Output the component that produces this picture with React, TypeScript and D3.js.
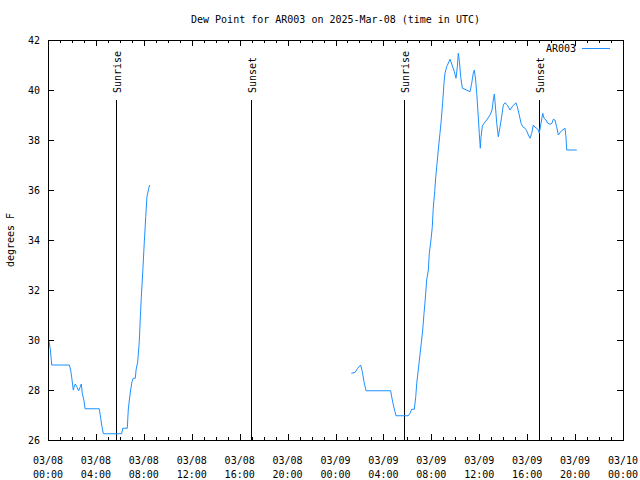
import React from "react";
import * as d3 from "d3";

// hours since 2025-03-08 00:00 UTC, and dew point (F)
const hours1 = [0.08, 0.2, 0.31, 1.78, 1.89, 1.98, 2.11, 2.2, 2.28, 2.4, 2.56, 2.67, 2.78, 2.86, 3.01, 3.09, 4.28, 4.4, 4.48, 4.62, 6.15, 6.24, 6.62, 6.7, 6.79, 6.9, 7.01, 7.12, 7.29, 7.35, 7.49, 7.62, 7.71, 7.79, 7.91, 8.04, 8.16, 8.26, 8.41, 8.49];
const dew1 = [29.96, 29.6, 29.0, 29.0, 28.8, 28.5, 28.0, 28.16, 28.24, 28.13, 27.97, 28.1, 28.24, 27.87, 27.56, 27.25, 27.25, 26.87, 26.6, 26.25, 26.25, 26.47, 26.47, 27.2, 27.6, 28.0, 28.33, 28.47, 28.47, 28.8, 29.13, 29.93, 30.93, 31.73, 32.73, 33.93, 34.93, 35.73, 36.07, 36.2];

const hours2 = [25.32, 25.63, 25.85, 26.1, 26.24, 26.38, 26.55, 28.61, 28.69, 28.83, 28.97, 29.05, 30.08, 30.22, 30.36, 30.58, 30.7, 30.78, 30.91, 31.05, 31.16, 31.28, 31.39, 31.5, 31.61, 31.75, 31.83, 31.97, 32.08, 32.16, 32.28, 32.37, 32.45, 32.58, 32.72, 32.83, 32.95, 33.06, 33.14, 33.28, 33.56, 33.73, 33.92, 34.06, 34.17, 34.25, 34.34, 34.45, 34.59, 34.81, 35.23, 35.37, 35.5, 35.59, 35.7, 35.79, 35.92, 36.0, 36.09, 36.15, 36.26, 36.4, 36.62, 36.9, 37.07, 37.17, 37.26, 37.34, 37.46, 37.59, 37.73, 37.87, 38.01, 38.15, 38.34, 38.57, 38.79, 39.07, 39.21, 39.34, 39.49, 39.63, 39.82, 39.96, 40.1, 40.24, 40.38, 40.51, 40.65, 40.8, 40.93, 41.01, 41.3, 41.41, 41.57, 41.71, 41.91, 42.07, 42.18, 42.32, 42.46, 42.6, 42.74, 42.87, 43.16, 43.24, 43.3, 44.14];
const dew2 = [28.67, 28.7, 28.87, 29.0, 28.73, 28.33, 27.97, 27.97, 27.73, 27.4, 27.13, 26.97, 26.97, 27.07, 27.23, 27.23, 27.73, 28.27, 28.8, 29.4, 29.87, 30.4, 31.07, 31.67, 32.4, 32.8, 33.47, 34.0, 34.53, 35.27, 35.93, 36.53, 36.93, 37.6, 38.27, 38.8, 39.53, 40.29, 40.67, 40.93, 41.23, 41.0, 40.73, 40.47, 40.93, 41.47, 41.17, 40.53, 40.07, 40.03, 39.93, 40.27, 40.67, 40.8, 40.4, 39.87, 38.93, 38.27, 37.67, 38.13, 38.56, 38.67, 38.8, 39.0, 39.2, 39.6, 39.84, 39.4, 38.67, 38.13, 38.51, 38.93, 39.4, 39.49, 39.4, 39.2, 39.36, 39.49, 39.27, 39.0, 38.67, 38.53, 38.47, 38.37, 38.2, 38.07, 38.27, 38.6, 38.51, 38.47, 38.4, 38.27, 39.07, 38.87, 38.8, 38.67, 38.63, 38.67, 38.83, 38.8, 38.53, 38.2, 38.29, 38.37, 38.47, 38.13, 37.6, 37.6];

const sunEvents = ["Sunrise", "Sunset", "Sunrise", "Sunset"];
const sunHours = [5.68, 16.95, 29.7, 41.0];

const yTicks = [26, 28, 30, 32, 34, 36, 38, 40, 42];
const title = "Dew Point for AR003 on 2025-Mar-08 (time in UTC)";
const yLabel = "degrees F";
const seriesName = "AR003";

const BASE = Date.UTC(2025, 2, 8, 0, 0);
const toDate = (h: number) => new Date(BASE + h * 3600 * 1000);

export default function App() {
  const W = 640, H = 480;
  const L = 48, R = 623, T = 40, B = 440;
  const font = "'DejaVu Sans Mono', monospace";
  const x = d3.scaleUtc().domain([toDate(0), toDate(48)]).range([L, R]);
  const y = d3.scaleLinear().domain([26, 42]).range([B, T]);
  const line = d3.line<[number, number]>().x(d => x(toDate(d[0]))).y(d => y(d[1]));
  const seg1 = hours1.map((h, i) => [h, dew1[i]] as [number, number]);
  const seg2 = hours2.map((h, i) => [h, dew2[i]] as [number, number]);
  const minor = d3.range(0, 49, 1);
  const major = d3.range(0, 49, 4);
  const color = "#1e90ff";
  const fmtD = d3.utcFormat("%m/%d");
  const fmtT = d3.utcFormat("%H:%M");
  return (
    <svg width={W} height={H} style={{ position: "absolute", left: 0, top: 0, background: "#fff" }} fontFamily={font} fontSize={10}>
      <rect width={W} height={H} fill="#fff" />
      <text x={(L + R) / 2} y={23} textAnchor="middle">{title}</text>
      {/* ticks */}
      <g stroke="#000" shapeRendering="crispEdges">
        {minor.map(h => {
          const len = h % 4 === 0 ? 6 : 3;
          const xx = Math.round(x(toDate(h))) + 0.5;
          return (
            <g key={"t" + h}>
              <line x1={xx} x2={xx} y1={B} y2={B - len} />
              <line x1={xx} x2={xx} y1={T} y2={T + len} />
            </g>
          );
        })}
        {yTicks.map(v => {
          const yy = Math.round(y(v)) + 0.5;
          return (
            <g key={"y" + v}>
              <line x1={L} x2={L + 6} y1={yy} y2={yy} />
              <line x1={R} x2={R - 6} y1={yy} y2={yy} />
            </g>
          );
        })}
      </g>
      {yTicks.map(v => (
        <text key={"yl" + v} x={40} y={y(v)} dy="0.35em" textAnchor="end">{v}</text>
      ))}
      {major.map(h => (
        <g key={"xl" + h}>
          <text x={x(toDate(h))} y={464} textAnchor="middle">{fmtD(toDate(h))}</text>
          <text x={x(toDate(h))} y={478} textAnchor="middle">{fmtT(toDate(h))}</text>
        </g>
      ))}
      <text transform={`translate(14,${(T + B) / 2}) rotate(-90)`} textAnchor="middle">{yLabel}</text>
      {/* sun lines */}
      {sunHours.map((h, i) => {
        const xx = Math.round(x(toDate(h))) + 0.5;
        return (
          <g key={"s" + i}>
            <line x1={xx} x2={xx} y1={B} y2={100} stroke="#000" shapeRendering="crispEdges" />
            <text transform={`translate(${xx + 4},93) rotate(-90)`} textAnchor="start">{sunEvents[i]}</text>
          </g>
        );
      })}
      <path d={line(seg1) || ""} fill="none" stroke={color} strokeWidth={1} />
      <path d={line(seg2) || ""} fill="none" stroke={color} strokeWidth={1} />
      {/* legend */}
      <text x={576} y={48} dy="0.35em" textAnchor="end">{seriesName}</text>
      <line x1={582} x2={610} y1={48.5} y2={48.5} stroke={color} shapeRendering="crispEdges" />
      <rect x={L + 0.5} y={T + 0.5} width={R - L} height={B - T} fill="none" stroke="#000" shapeRendering="crispEdges" />
    </svg>
  );
}
